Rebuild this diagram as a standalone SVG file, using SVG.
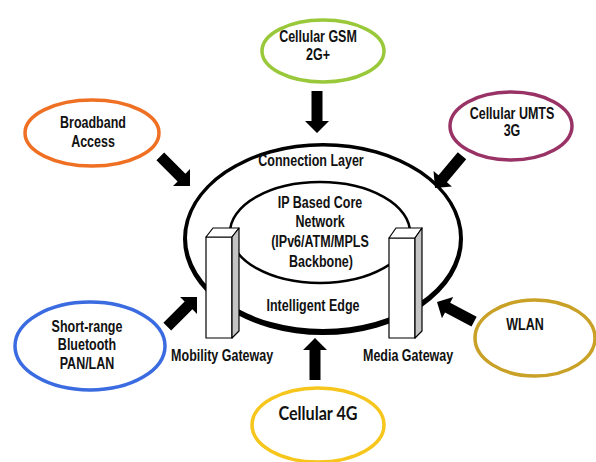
<svg xmlns="http://www.w3.org/2000/svg" width="596" height="462" viewBox="0 0 596 462">
  <style>
    .lbl { font-family: "Liberation Sans", Arial, sans-serif; font-weight: bold; font-size: 17px; fill: #111; text-anchor: middle;
           transform-box: fill-box; transform-origin: center; transform: scaleX(0.735); }
    .lbl4g { font-family: Lato, "Open Sans", sans-serif; font-weight: bold; font-size: 19px; fill: #111; text-anchor: middle;
             transform-box: fill-box; transform-origin: center; transform: scaleX(0.85); }
    .node { fill: #fff; stroke-width: 3.5; }
    .pillar { fill: #fff; stroke: #000; stroke-width: 1.2; stroke-linejoin: round; }
    .pillar-side { fill: #c4c4c4; stroke: #000; stroke-width: 1.2; stroke-linejoin: round; }
    .arrow { fill: #000; }
  </style>
  <defs>
    <!-- block arrow, tip at origin, pointing along +x -->
    <polygon id="blockArrow" class="arrow" points="-42,-5.5 -12,-5.5 -12,-12 0,0 -12,12 -12,5.5 -42,5.5"/>
  </defs>

  <rect width="596" height="462" fill="#fff"/>

  <!-- central rings -->
  <g id="connection-layer">
    <path fill="#000" fill-rule="evenodd" d="M183,239 a140,96 0 1,0 280,0 a140,96 0 1,0 -280,0 Z M187,237.75 a136,91.25 0 1,0 272,0 a136,91.25 0 1,0 -272,0 Z"/>
    <text class="lbl" x="311" y="166">Connection Layer</text>
    <text class="lbl" x="313" y="311">Intelligent Edge</text>
  </g>
  <g id="ip-core">
    <ellipse cx="320" cy="232.5" rx="90" ry="50.5" fill="none" stroke="#000" stroke-width="2.5"/>
    <text class="lbl" x="320" y="208">IP Based Core</text>
    <text class="lbl" x="320" y="227">Network</text>
    <text class="lbl" x="320" y="247">(IPv6/ATM/MPLS</text>
    <text class="lbl" x="321" y="267">Backbone)</text>
  </g>

  <!-- gateways -->
  <g id="mobility-gateway">
    <rect class="pillar" x="206" y="237" width="26" height="101"/>
    <polygon class="pillar" points="206,237 213,228 239,228 232,237"/>
    <polygon class="pillar-side" points="232,237 239,228 239,331 232,338"/>
    <text class="lbl" x="222" y="361">Mobility Gateway</text>
  </g>
  <g id="media-gateway">
    <rect class="pillar" x="389" y="238" width="26" height="100"/>
    <polygon class="pillar" points="389,238 396,228 422,228 415,238"/>
    <polygon class="pillar-side" points="415,238 422,228 422,331 415,338"/>
    <text class="lbl" x="408" y="361">Media Gateway</text>
  </g>

  <!-- access networks -->
  <g id="cellular-gsm">
    <ellipse class="node" cx="323" cy="51" rx="61" ry="31" stroke="#99c93a"/>
    <text class="lbl" x="318" y="42">Cellular GSM</text>
    <text class="lbl" x="318" y="60">2G+</text>
  </g>
  <g id="broadband">
    <ellipse class="node" cx="92" cy="133" rx="67" ry="33" stroke="#f07023"/>
    <text class="lbl" x="93" y="128">Broadband</text>
    <text class="lbl" x="93" y="147">Access</text>
  </g>
  <g id="cellular-umts">
    <ellipse class="node" cx="511" cy="126" rx="61" ry="34" stroke="#993366"/>
    <text class="lbl" x="512" y="119">Cellular UMTS</text>
    <text class="lbl" x="512" y="136">3G</text>
  </g>
  <g id="short-range">
    <ellipse class="node" cx="90" cy="346" rx="75" ry="44" stroke="#3a6be0"/>
    <text class="lbl" x="87" y="332">Short-range</text>
    <text class="lbl" x="87" y="350">Bluetooth</text>
    <text class="lbl" x="87" y="369">PAN/LAN</text>
  </g>
  <g id="wlan">
    <ellipse class="node" cx="535" cy="338" rx="60" ry="38" stroke="#c9a126"/>
    <text class="lbl" x="525" y="330">WLAN</text>
  </g>
  <g id="cellular-4g">
    <ellipse class="node" cx="318" cy="425" rx="66" ry="37" stroke="#f6c61c"/>
    <text class="lbl4g" x="318" y="420">Cellular 4G</text>
  </g>

  <!-- connectors -->
  <g id="connectors">
    <use href="#blockArrow" transform="translate(317,133) rotate(90)"/>
    <use href="#blockArrow" transform="translate(315,338) rotate(-90)"/>
    <use href="#blockArrow" transform="translate(190,186) rotate(45)"/>
    <use href="#blockArrow" transform="translate(435,188) rotate(130)"/>
    <use href="#blockArrow" transform="translate(197,297) rotate(-45)"/>
    <use href="#blockArrow" transform="translate(437,302) rotate(-152)"/>
  </g>
</svg>
